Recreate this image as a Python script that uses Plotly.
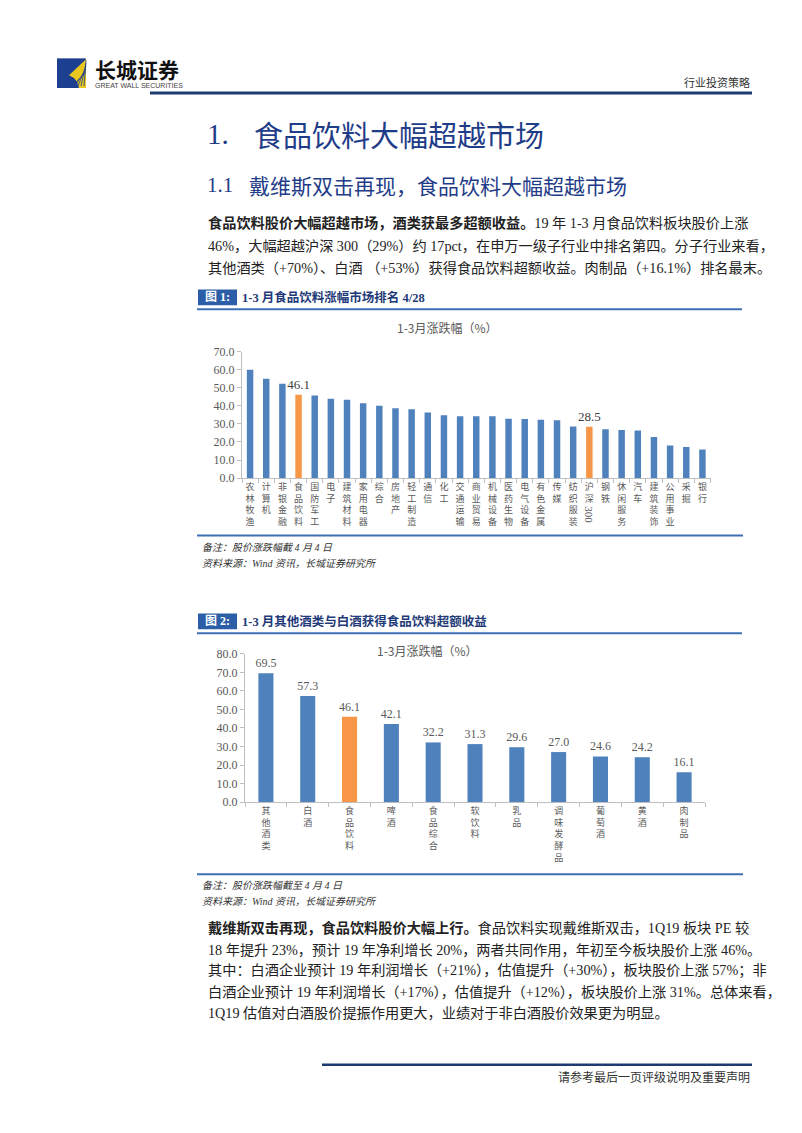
import plotly.graph_objects as go

W, H = 802, 1133

# ---------------- data ----------------
industries = ["农林牧渔", "计算机", "非银金融", "食品饮料", "国防军工", "电子", "建筑材料",
              "家用电器", "综合", "房地产", "轻工制造", "通信", "化工", "交通运输", "商业贸易",
              "机械设备", "医药生物", "电气设备", "有色金属", "传媒", "纺织服装", "沪深300",
              "钢铁", "休闲服务", "汽车", "建筑装饰", "公用事业", "采掘", "银行"]
industry_returns = [60.0, 55.0, 52.3, 46.1, 45.8, 44.0, 43.4, 41.4, 40.1, 38.7, 38.1, 36.3,
                    34.8, 34.3, 34.3, 34.2, 32.8, 32.7, 32.3, 32.0, 28.6, 28.5, 27.1, 26.6,
                    26.4, 22.7, 18.0, 17.2, 15.8]
highlight1 = ["食品饮料", "沪深300"]
y1_ticks = [0, 10, 20, 30, 40, 50, 60, 70]

sub_sectors = ["其他酒类", "白酒", "食品饮料", "啤酒", "食品综合", "软饮料", "乳品",
               "调味发酵品", "葡萄酒", "黄酒", "肉制品"]
sub_returns = [69.5, 57.3, 46.1, 42.1, 32.2, 31.3, 29.6, 27.0, 24.6, 24.2, 16.1]
highlight2 = ["食品饮料"]
y2_ticks = [0, 10, 20, 30, 40, 50, 60, 70, 80]

chart_title = "1-3月涨跌幅（%）"

# ---------------- styles ----------------
BLUE = "#4F81BD"
ORANGE = "#F79646"
NAVY = "#1F3C88"
CJK = "Noto Sans CJK SC"
SERIF = "Liberation Serif, Noto Sans CJK SC"
AXIS_GREY = "#BFBFBF"
TXT_GREY = "#595959"


def px(x):
    return x / W


def py(y):
    return 1 - y / H


def vlabel(name):
    # stack characters vertically, digits are drawn rotated separately
    return "<br>".join(c for c in name if not c.isdigit())


fig = go.Figure()

x1 = [vlabel(c) for c in industries]
fig.add_trace(go.Bar(
    x=x1, y=industry_returns, width=0.4,
    marker=dict(color=[ORANGE if c in highlight1 else BLUE for c in industries], line=dict(width=0)),
    text=[f"{v:.1f}" if c in highlight1 else "" for c, v in zip(industries, industry_returns)],
    textposition="outside", cliponaxis=False, constraintext="none",
    textfont=dict(family=SERIF, size=13, color="#404040"),
    xaxis="x", yaxis="y", hoverinfo="skip", showlegend=False))

x2 = [vlabel(c) for c in sub_sectors]
fig.add_trace(go.Bar(
    x=x2, y=sub_returns, width=0.36,
    marker=dict(color=[ORANGE if c in highlight2 else BLUE for c in sub_sectors], line=dict(width=0)),
    text=[f"{v:.1f}" for v in sub_returns],
    textposition="outside", cliponaxis=False, constraintext="none",
    textfont=dict(family=SERIF, size=12, color=TXT_GREY),
    xaxis="x2", yaxis="y2", hoverinfo="skip", showlegend=False))

xcommon = dict(type="category", tickangle=0, ticks="outside", tickson="boundaries", ticklen=4,
               tickcolor=AXIS_GREY, showline=True, linecolor=AXIS_GREY, linewidth=1,
               showgrid=False, zeroline=False, fixedrange=True,
               tickfont=dict(family=CJK, size=9, color=TXT_GREY))
ycommon = dict(ticks="outside", ticklen=4, tickcolor=AXIS_GREY, showline=True, linecolor=AXIS_GREY,
               linewidth=1, showgrid=False, zeroline=False, tickformat=".1f", fixedrange=True,
               tickfont=dict(family=SERIF, size=12, color=TXT_GREY))

fig.update_layout(
    width=W, height=H, margin=dict(l=0, r=0, t=0, b=0),
    paper_bgcolor="white", plot_bgcolor="white",
    xaxis=dict(xcommon, domain=[px(242), px(710.5)], anchor="y", range=[-0.5, len(industries) - 0.5]),
    yaxis=dict(ycommon, domain=[py(477), py(349)], anchor="x", range=[0, 70], tickvals=y1_ticks),
    xaxis2=dict(xcommon, domain=[px(245), px(705)], anchor="y2", range=[-0.5, len(sub_sectors) - 0.5]),
    yaxis2=dict(ycommon, domain=[py(805), py(655)], anchor="x2", range=[0, 80], tickvals=y2_ticks),
)

ann = []
shapes = []


def text(x, y, s, size, color="#000000", family=SERIF, anchor="left", **kw):
    ann.append(dict(x=px(x), y=py(y), xref="paper", yref="paper", text=s, showarrow=False,
                    xanchor=anchor, yanchor="middle", font=dict(family=family, size=size, color=color), **kw))


def hline(x0, x1_, y, color, w):
    shapes.append(dict(type="line", xref="paper", yref="paper", x0=px(x0), x1=px(x1_), y0=py(y), y1=py(y),
                       line=dict(color=color, width=w)))


def rect(x0, y0, x1_, y1_, color):
    shapes.append(dict(type="rect", xref="paper", yref="paper", x0=px(x0), x1=px(x1_), y0=py(y0), y1=py(y1_),
                       fillcolor=color, line=dict(width=0)))


def poly(points, color):
    d = "M " + " L ".join(f"{px(a):.5f},{py(b):.5f}" for a, b in points) + " Z"
    shapes.append(dict(type="path", xref="paper", yref="paper", path=d, fillcolor=color, line=dict(width=0)))


# ---- page header ----
rect(57, 52, 86, 82, "#1D3F8F")
poly([(86, 53), (69, 69), (74, 72), (77, 76), (79, 82), (86, 82)], "#E8C81E")
for k in range(5):
    shapes.append(dict(type="line", xref="paper", yref="paper",
                       x0=px(72 + k * 3), y0=py(80), x1=px(86), y1=py(66 - k * 3 + 0),
                       line=dict(color="#1D3F8F", width=0.8)))
text(93, 63, "<b>长城证券</b>", 21, "#111111", CJK)
text(93, 79, "GREAT WALL SECURITIES", 7, "#444444", "Liberation Sans")
text(752, 76, "行业投资策略", 11, "#333333", CJK, anchor="right")
hline(150, 752, 87, "#1F3A70", 3)

# ---- headings ----
text(205, 129, "1.", 29, NAVY)
text(252, 129, "食品饮料大幅超越市场", 29, NAVY, CJK)
text(205, 180, "1.1", 21, NAVY)
text(247, 180, "戴维斯双击再现，食品饮料大幅超越市场", 21, NAVY, CJK)

para1 = [
    "<b>食品饮料股价大幅超越市场，酒类获最多超额收益。</b>19 年 1-3 月食品饮料板块股价上涨",
    "46%，大幅超越沪深 300（29%）约 17pct，在申万一级子行业中排名第四。分子行业来看，",
    "其他酒类（+70%）、白酒 （+53%）获得食品饮料超额收益。肉制品（+16.1%）排名最末。",
]
for i, s in enumerate(para1):
    text(206, 219 + i * 22.5, s, 14.2, "#222222")

# ---- figure 1 header ----
rect(198, 286, 237, 302, "#2B5EA7")
text(217.5, 294, "<b>图 1:</b>", 12, "white", anchor="center")
text(240, 294, "<b>1-3 月食品饮料涨幅市场排名 4/28</b>", 12.5, "#1F3A78")
hline(197, 742, 306, "#3F6FB5", 2)
text(447, 325, chart_title, 12, TXT_GREY, CJK, anchor="center")

# rotated digits of tick labels (e.g. 沪深300)
for c in industries:
    digits = "".join(ch for ch in c if ch.isdigit())
    if digits:
        ann.append(dict(x=vlabel(c), y=py(514), xref="x", yref="paper", text=digits, showarrow=False,
                        textangle=90, xanchor="center", yanchor="middle",
                        font=dict(family=SERIF, size=11, color=TXT_GREY)))

hline(197, 743, 535, "#3F6FB5", 2)
text(200, 547, "<i>备注：股价涨跌幅截 4 月 4 日</i>", 10, "#333333")
text(200, 563, "<i>资料来源：Wind 资讯，长城证券研究所</i>", 10, "#333333")

# ---- figure 2 header ----
rect(198, 614, 237, 630, "#2B5EA7")
text(217.5, 622, "<b>图 2:</b>", 12, "white", anchor="center")
text(240, 622, "<b>1-3 月其他酒类与白酒获得食品饮料超额收益</b>", 12.5, "#1F3A78")
hline(197, 742, 634, "#3F6FB5", 2)
text(427, 652, chart_title, 12, TXT_GREY, CJK, anchor="center")

hline(197, 743, 878, "#3F6FB5", 2)
text(200, 889, "<i>备注：股价涨跌幅截至 4 月 4 日</i>", 10, "#333333")
text(200, 906, "<i>资料来源：Wind 资讯，长城证券研究所</i>", 10, "#333333")

para2 = [
    "<b>戴维斯双击再现，食品饮料股价大幅上行。</b>食品饮料实现戴维斯双击，1Q19 板块 PE 较",
    "18 年提升 23%，预计 19 年净利增长 20%，两者共同作用，年初至今板块股价上涨 46%。",
    "其中：白酒企业预计 19 年利润增长（+21%），估值提升（+30%），板块股价上涨 57%；非",
    "白酒企业预计 19 年利润增长（+17%），估值提升（+12%），板块股价上涨 31%。总体来看，",
    "1Q19 估值对白酒股价提振作用更大，业绩对于非白酒股价效果更为明显。",
]
for i, s in enumerate(para2):
    text(206, 933 + i * 21.5, s, 14.2, "#222222")

# ---- footer ----
hline(322, 752, 1071, "#1F3A70", 2.5)
text(752, 1083, "请参考最后一页评级说明及重要声明", 12, "#333333", CJK, anchor="right")

fig.update_layout(annotations=ann, shapes=shapes)

fig.write_html("out.html", config={"displayModeBar": False})
